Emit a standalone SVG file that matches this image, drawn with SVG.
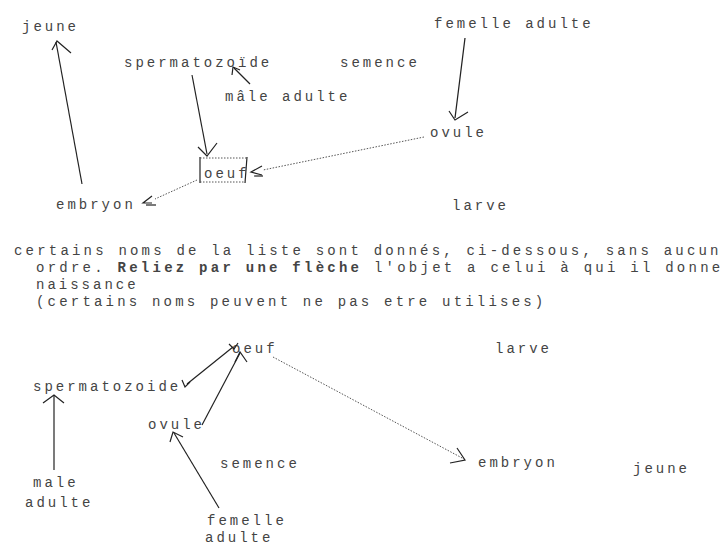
<svg xmlns="http://www.w3.org/2000/svg" width="724" height="545" viewBox="0 0 724 545">
<style>
text{font-family:"Liberation Mono","DejaVu Sans Mono",monospace;font-size:14px;fill:#444;letter-spacing:3px}
.ln{stroke:#222;stroke-width:1.2;fill:none}
.dt{stroke:#555;stroke-width:1;fill:none;stroke-dasharray:1.5 1.5}
.hd{stroke:#222;stroke-width:1.2;fill:none}
</style>
<rect width="724" height="545" fill="#fff"/>
<g id="top">
<g id="t-jeune"><text x="22" y="31">jeune</text></g>
<g id="t-sperm"><text x="124" y="67">spermatozoïde</text></g>
<g id="t-semence"><text x="340" y="67">semence</text></g>
<g id="t-femelle"><text x="434" y="28">femelle adulte</text></g>
<g id="t-male"><text x="225" y="101">mâle adulte</text></g>
<g id="t-ovule"><text x="430" y="137">ovule</text></g>
<g id="t-oeuf"><line x1="200" y1="157" x2="200" y2="183" class="ln"/><line x1="247" y1="157" x2="245" y2="183" class="ln"/><line x1="200" y1="158" x2="247" y2="158" class="dt"/><line x1="200" y1="182" x2="245" y2="182" class="dt"/><text x="204" y="178">oeuf</text></g>
<g id="t-embryon"><text x="56" y="209">embryon</text></g>
<g id="t-larve"><text x="452" y="210">larve</text></g>
</g>
<g id="top-connectors">
<line x1="82" y1="184" x2="56" y2="42" class="ln"/><polyline points="52,50 57,41 71,53" class="hd"/>
<line x1="192" y1="75" x2="207" y2="154" class="ln"/><polyline points="198,147 207,156 217,143" class="hd"/>
<line x1="250" y1="84" x2="234" y2="68" class="ln"/><polyline points="232,75 233,67 240,70" class="hd"/>
<line x1="465" y1="38" x2="455" y2="118" class="ln"/><polyline points="449,111 455,120 468,112" class="hd"/>
<line x1="424" y1="137" x2="263" y2="170" class="dt"/><polyline points="262,166 251,172 262,175" class="hd"/><line x1="254" y1="176" x2="263" y2="176" class="hd"/>
<line x1="197" y1="180" x2="155" y2="199" class="dt"/><polyline points="152,196 143,203 152,203" class="hd"/><line x1="146" y1="205" x2="156" y2="205" class="hd"/>
</g>
<g id="instructions">
<text x="14" y="255" style="letter-spacing:3.2px">certains noms de la liste sont donnés, ci-dessous, sans aucun</text>
<text x="36" y="272" style="letter-spacing:3.25px">ordre. <tspan font-weight="bold">Reliez par une flèche</tspan> l'objet a celui à qui il donne</text>
<text x="36" y="289">naissance</text>
<text x="36" y="306" style="letter-spacing:3.2px">(certains noms peuvent ne pas etre utilises)</text>
</g>
<g id="bottom">
<g id="b-oeuf"><text x="232" y="353">oeuf</text></g>
<g id="b-larve"><text x="495" y="353">larve</text></g>
<g id="b-sperm"><text x="33" y="391">spermatozoide</text></g>
<g id="b-ovule"><text x="148" y="429">ovule</text></g>
<g id="b-semence"><text x="220" y="468">semence</text></g>
<g id="b-embryon"><text x="478" y="467">embryon</text></g>
<g id="b-jeune"><text x="633" y="473">jeune</text></g>
<g id="b-male"><text x="33" y="487">male</text><text x="25" y="507">adulte</text></g>
<g id="b-femelle"><text x="207" y="525">femelle</text><text x="205" y="542">adulte</text></g>
</g>
<g id="bottom-connectors">
<line x1="54" y1="470" x2="54" y2="396" class="ln"/><polyline points="43,403 54,395 64,403" class="hd"/>
<line x1="219" y1="508" x2="174" y2="433" class="ln"/><polyline points="170,442 173,432 183,437" class="hd"/>
<line x1="202" y1="425" x2="240" y2="353" class="ln"/><polyline points="235,362 240,352 247,362" class="hd"/>
<line x1="187" y1="384" x2="233" y2="347" class="ln"/><polyline points="182,380 185,387 190,382" class="hd"/><polyline points="229,344 234,349 238,343" class="hd"/>
<line x1="273" y1="357" x2="464" y2="459" class="dt"/><polyline points="457,448 465,460 450,463" class="hd"/>
</g>
</svg>
